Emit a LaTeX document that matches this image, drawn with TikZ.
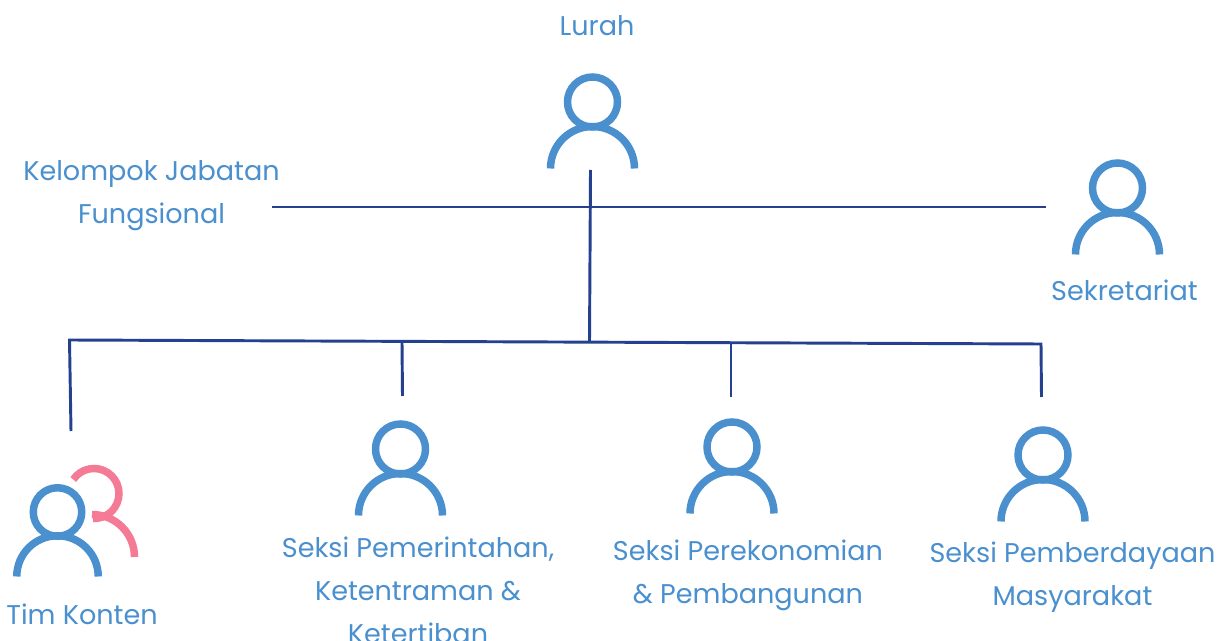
\documentclass[tikz,border=0pt]{standalone}
\usepackage{fontspec}
\setmainfont{Poppins}
\definecolor{iconblue}{HTML}{4A8FCE}
\definecolor{iconpink}{HTML}{F47A96}
\definecolor{linenavy}{HTML}{24408E}
\tikzset{
	person/.pic={
		\draw[iconblue, line width=5.6pt] (0,0) circle (25);
		\draw[iconblue, line width=5.6pt] (-42,-66.5) arc (180:0:42);
	},
	label/.style={text=iconblue, align=center, font=\fontsize{20.3}{32.2}\selectfont},
	orgline/.style={draw=linenavy, line width=2.2pt}
}

\begin{document}
\begin{tikzpicture}[x=0.75pt, y=0.75pt]
	\useasboundingbox (0,0) rectangle (1225,-641);

	\pic at (592.5,-102) {person};
	\pic at (1117.5,-188) {person};
	\pic at (400.5,-449) {person};
	\pic at (732,-447) {person};
	\pic at (1043,-455) {person};

	% second person behind the team icon
	\draw[iconpink, line width=5.6pt] (94,-493.5) +(146:25) arc (146:-92:25);
	\draw[iconpink, line width=5.6pt] (92,-557) +(90:42.5) arc (90:0:42.5);
	\pic[scale=0.97] at (57.5,-512) {person};

	\node[label] at (151.5,-196) (fungsional) {Kelompok Jabatan\\Fungsional};
	\node[label] at (597,-26) (lurah) {Lurah};
	\node[label] at (1124.5,-290.5) (sekretariat) {Sekretariat};
	\node[label] at (82,-614.5) (tim-konten) {Tim Konten};
	\node[label] at (418,-590) (pemerintahan) {Seksi Pemerintahan,\\Ketentraman \&\\Ketertiban};
	\node[label] at (748,-575) (perekonomian) {Seksi Perekonomian\\\& Pembangunan};
	\node[label] at (1072.5,-577.5) (pemberdayaan) {Seksi Pemberdayaan\\Masyarakat};

	\coordinate (staff-left) at (272,-207);
	\coordinate (staff-right) at (1046,-207);
	\coordinate (lurah-foot) at (590.5,-170);
	\coordinate (bus-mid) at (589.5,-342);
	\coordinate (bus-left) at (69.5,-340);
	\coordinate (bus-right) at (1041,-344);
	\coordinate (bus-a) at (402,-342);
	\coordinate (bus-b) at (731,-343);
	\coordinate (tim-top) at (71,-431);
	\coordinate (pemerintahan-top) at (402.5,-396);
	\coordinate (perekonomian-top) at (731,-397);
	\coordinate (pemberdayaan-top) at (1041.5,-397);

	\draw[orgline] (staff-left) to (staff-right);
	\draw[orgline] (lurah-foot) to (bus-mid);
	\draw[orgline] (tim-top) to (bus-left) to (bus-right) to (pemberdayaan-top);
	\draw[orgline] (bus-a) to (pemerintahan-top);
	\draw[orgline] (bus-b) to (perekonomian-top);
\end{tikzpicture}
\end{document}
